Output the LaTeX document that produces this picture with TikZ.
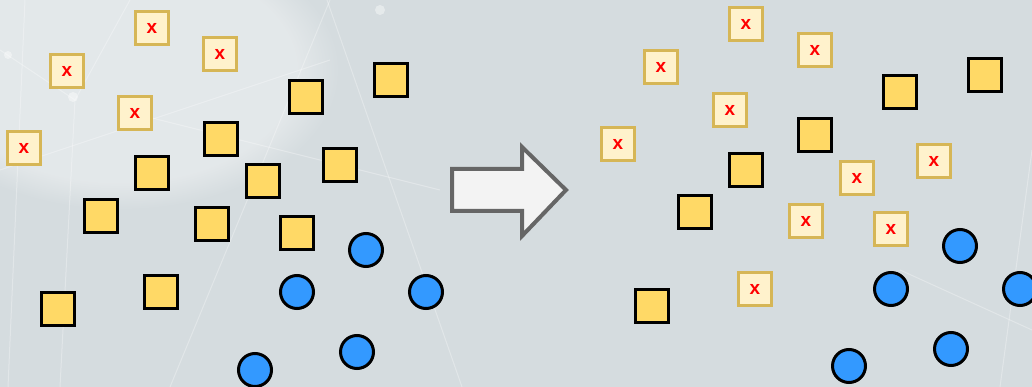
\documentclass[tikz,border=0pt]{standalone}
\usepackage{fontspec}
\setmainfont{Liberation Sans}
\usetikzlibrary{fadings}
\definecolor{bgcol}{RGB}{213,220,223}
\definecolor{sqfill}{RGB}{255,217,102}
\definecolor{xfill}{RGB}{255,242,204}
\definecolor{xedge}{RGB}{214,182,86}
\definecolor{cfill}{RGB}{51,153,255}
\definecolor{arrowedge}{RGB}{102,102,102}
\definecolor{arrowfill}{RGB}{243,243,243}
\tikzset{
  sq/.style={rectangle,draw=black,fill=sqfill,line width=3pt,minimum size=33pt,inner sep=0pt},
  xbox/.style={rectangle,draw=xedge,fill=xfill,line width=3pt,minimum size=33pt,inner sep=0pt,
    text=red,font=\fontsize{19}{19}\selectfont\bfseries},
  dot/.style={circle,draw=black,fill=cfill,line width=3pt,minimum size=33pt,inner sep=0pt},
  glow/.style={white,opacity=.3,line width=1pt}
}
\begin{document}
\begin{tikzpicture}[x=1pt,y=-1pt]

        \useasboundingbox (0,0) rectangle (1032,387);
        \fill[bgcol] (0,0) rectangle (1032,387);
        \fill[white,opacity=.35,path fading=circle with fuzzy edge 20 percent]
          (120,70) ellipse (220pt and 140pt);

        % faint background lines
        \begin{scope}[glow]
          \draw (25,0) -- (8,387);
          \draw (0,50) -- (75,100) -- (130,0);
          \draw (75,100) -- (60,387);
          \draw (327,0) -- (462,387);
          \draw (120,110) -- (440,190);
          \draw (0,170) -- (330,60);
          \draw (170,387) -- (330,0);
          \draw (900,270) -- (1032,330);
          \draw (1000,387) -- (1032,150);
        \end{scope}
        \fill[white,opacity=.4] (73,97) circle (5pt) (8,55) circle (4pt) (380,10) circle (5pt);

        % left: before
        \begin{scope}[every node/.style={xbox}]
          \node (lx1) at (152,28)  {x};
          \node (lx2) at (220,54)  {x};
          \node (lx3) at (67,71)   {x};
          \node (lx4) at (135,113) {x};
          \node (lx5) at (24,148)  {x};
        \end{scope}

        \begin{scope}[every node/.style={sq}]
          \node (ls1)  at (306,97)  {};
          \node (ls2)  at (391,80)  {};
          \node (ls3)  at (221,139) {};
          \node (ls4)  at (152,173) {};
          \node (ls5)  at (340,165) {};
          \node (ls6)  at (263,181) {};
          \node (ls7)  at (101,216) {};
          \node (ls8)  at (212,224) {};
          \node (ls9)  at (297,233) {};
          \node (ls10) at (161,292) {};
          \node (ls11) at (58,309)  {};
        \end{scope}

        \begin{scope}[every node/.style={dot}]
          \node (lc1) at (366,250) {};
          \node (lc2) at (297,292) {};
          \node (lc3) at (426,292) {};
          \node (lc4) at (357,352) {};
          \node (lc5) at (255,370) {};
        \end{scope}

        % the arrow
        \filldraw[fill=arrowfill,draw=arrowedge,line width=4pt,miter limit=10]
          (452,169) -- (522,169) -- (522,147) -- (566,190) -- (522,236)
          -- (522,211) -- (452,211) -- cycle;

        % right: after
        \begin{scope}[every node/.style={xbox}]
          \node (rx1)  at (746,24)  {x};
          \node (rx2)  at (815,50)  {x};
          \node (rx3)  at (661,67)  {x};
          \node (rx4)  at (730,110) {x};
          \node (rx5)  at (618,144) {x};
          \node (rx6)  at (934,161) {x};
          \node (rx7)  at (857,178) {x};
          \node (rx8)  at (806,221) {x};
          \node (rx9)  at (891,229) {x};
          \node (rx10) at (755,289) {x};
        \end{scope}

        \begin{scope}[every node/.style={sq}]
          \node (rs1) at (985,75)  {};
          \node (rs2) at (900,92)  {};
          \node (rs3) at (815,135) {};
          \node (rs4) at (746,170) {};
          \node (rs5) at (695,212) {};
          \node (rs6) at (652,306) {};
        \end{scope}

        \begin{scope}[every node/.style={dot}]
          \node (rc1) at (960,246) {};
          \node (rc2) at (891,289) {};
          \node (rc3) at (1020,289) {};
          \node (rc4) at (951,349) {};
          \node (rc5) at (849,366) {};
        \end{scope}

      \end{tikzpicture}
\end{document}
